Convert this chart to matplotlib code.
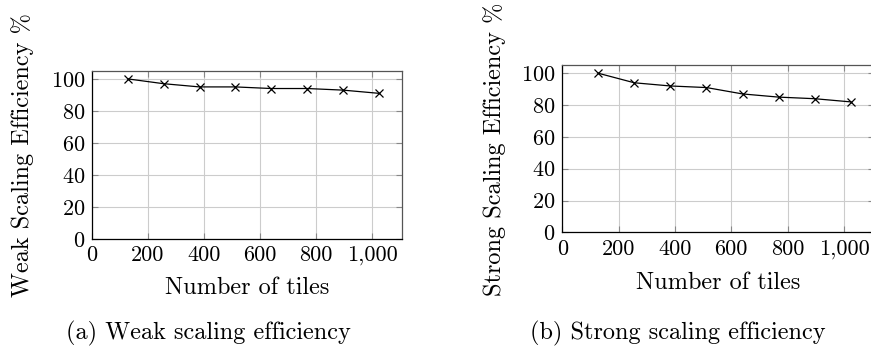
import numpy as np
import matplotlib.pyplot as plt
from matplotlib.ticker import FuncFormatter

plt.rcParams['font.family'] = 'cmr10'
plt.rcParams['mathtext.fontset'] = 'cm'
plt.rcParams['axes.formatter.use_mathtext'] = True

# Data
tiles = [128, 256, 384, 512, 640, 768, 896, 1024]
weak_eff = [100, 97, 95, 95, 94, 94, 93, 91]
strong_eff = [100, 94, 92, 91, 87, 85, 84, 82]

xticks = [0, 200, 400, 600, 800, 1000]
yticks = [0, 20, 40, 60, 80, 100]

fig = plt.figure(figsize=(8.71, 3.51), dpi=100)
ax1 = fig.add_axes([0.1056, 0.319, 0.356, 0.479])
ax2 = fig.add_axes([0.6455, 0.338, 0.358, 0.476])

def style(ax, y, ylabel, xl_y, yl_x):
    ax.plot(tiles, y, color='black', linewidth=0.9, marker='x',
            markersize=6, markeredgewidth=0.9)
    ax.set_xlim(0, 1107)
    ax.set_ylim(0, 105)
    ax.set_xticks(xticks)
    ax.set_yticks(yticks)
    ax.xaxis.set_major_formatter(FuncFormatter(lambda v, p: f"{int(v):,}"))
    ax.grid(True, color='#cccccc', linewidth=0.8)
    ax.set_axisbelow(True)
    ax.tick_params(direction='in', length=4, width=0.8, color='#888888',
                   top=True, right=True, labelsize=16, pad=5)
    for s in ['left', 'bottom']:
        ax.spines[s].set_color('black')
    for s in ['top', 'right']:
        ax.spines[s].set_color('#555555')
    for s in ax.spines.values():
        s.set_linewidth(0.9)
    ax.set_xlabel("Number of tiles", fontsize=17.5, va='center')
    ax.set_ylabel(ylabel, fontsize=17.5, va='center')
    ax.xaxis.set_label_coords(0.5, xl_y)
    ax.yaxis.set_label_coords(yl_x, 0.5)

style(ax1, weak_eff, "Weak Scaling Efficiency %", -0.292, -0.223)
style(ax2, strong_eff, "Strong Scaling Efficiency %", -0.304, -0.218)

fig.text(208/871, 1 - 333/351, "(a) Weak scaling efficiency", fontsize=17.5,
         ha='center', va='center')
fig.text(678/871, 1 - 333/351, "(b) Strong scaling efficiency", fontsize=17.5,
         ha='center', va='center')

plt.savefig("out.png", dpi=100)
